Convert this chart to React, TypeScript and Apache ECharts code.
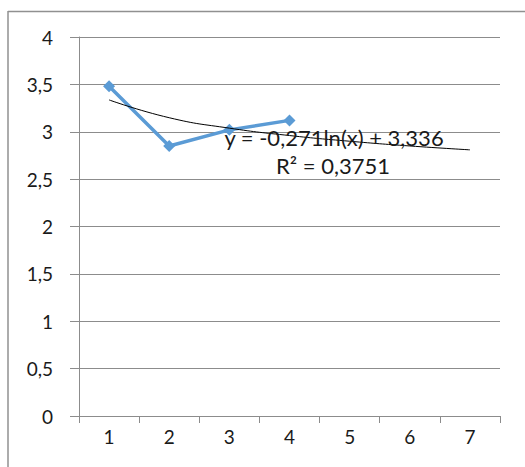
import React, { useEffect, useRef } from "react";
import * as echarts from "echarts";

const categories = ["1", "2", "3", "4", "5", "6", "7"];
const seriesValues = [3.48, 2.85, 3.02, 3.12];
const trendValues = [3.336, 3.148, 3.038, 2.960, 2.900, 2.850, 2.809];
const yTicks = [0, 0.5, 1, 1.5, 2, 2.5, 3, 3.5, 4];
const equationText = "y = -0,271ln(x) + 3,336";
const r2Text = "R² = 0,3751";

const FONT = "Lato, 'Open Sans', sans-serif";

export default function App() {
  const ref = useRef<HTMLDivElement>(null);
  useEffect(() => {
    document.body.style.margin = "0";
    const chart = echarts.init(ref.current!, null, { renderer: "svg" });
    chart.setOption({
      animation: false,
      backgroundColor: "#ffffff",
      grid: { left: 79, right: 25, top: 37, bottom: 51, containLabel: false },
      xAxis: {
        type: "category",
        data: categories,
        boundaryGap: true,
        axisLine: { show: true, lineStyle: { color: "#8c8c8c", width: 1 } },
        axisTick: { show: true, length: 7, alignWithLabel: false, lineStyle: { color: "#8c8c8c" } },
        axisLabel: { color: "#1a1a1a", fontSize: 19, fontFamily: FONT, margin: 11 },
        splitLine: { show: false },
      },
      yAxis: {
        type: "value",
        min: yTicks[0],
        max: yTicks[yTicks.length - 1],
        interval: 0.5,
        axisLine: { show: true, lineStyle: { color: "#8c8c8c", width: 1 } },
        axisTick: { show: true, length: 9, lineStyle: { color: "#8c8c8c" } },
        axisLabel: {
          color: "#1a1a1a",
          fontSize: 19,
          fontFamily: FONT,
          margin: 26,
          formatter: (v: number) => String(v).replace(".", ","),
        },
        splitLine: { show: true, lineStyle: { color: "#8c8c8c", width: 1 } },
      },
      series: [
        {
          type: "line",
          data: trendValues,
          smooth: true,
          symbol: "none",
          lineStyle: { color: "#000000", width: 1 },
          z: 3,
        },
        {
          type: "line",
          data: seriesValues,
          symbol: "diamond",
          symbolSize: 12,
          itemStyle: { color: "#5B9BD5" },
          lineStyle: { color: "#5B9BD5", width: 3.5 },
          z: 2,
        },
      ],
      graphic: [
        { type: "line", shape: { x1: 8, y1: 11.5, x2: 525, y2: 11.5 }, style: { stroke: "#909090", lineWidth: 1.5 } },
        { type: "line", shape: { x1: 8, y1: 11, x2: 8, y2: 467 }, style: { stroke: "#909090", lineWidth: 1.5 } },
        {
          type: "text",
          x: 334,
          y: 137,
          z: 10,
          style: { text: equationText, fill: "#1a1a1a", font: `22px ${FONT}`, textAlign: "center", textVerticalAlign: "middle" },
        },
        {
          type: "text",
          x: 333,
          y: 165,
          z: 10,
          style: { text: r2Text, fill: "#1a1a1a", font: `22px ${FONT}`, textAlign: "center", textVerticalAlign: "middle" },
        },
      ],
    });
    return () => chart.dispose();
  }, []);
  return <div ref={ref} style={{ width: 525, height: 467 }} />;
}
